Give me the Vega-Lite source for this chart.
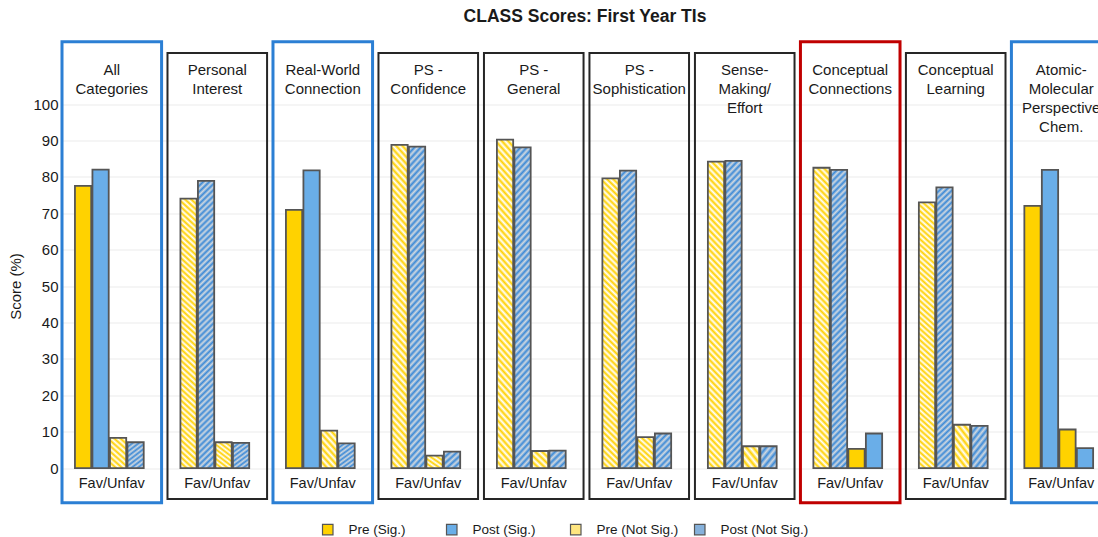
{
  "$schema": "https://vega.github.io/schema/vega-lite/v6.json",
  "autosize": {"type": "none"},
  "padding": {"left": 62, "top": 38.5, "right": 0, "bottom": 32.5},
  "width": 1036,
  "height": 466,
  "title": {"text": "CLASS Scores: First Year TIs", "fontSize": 17.5, "fontWeight": "bold", "anchor": "middle", "baseline": "alphabetic", "offset": -1, "dx": 5, "color": "#1a1a1a"},
  "config": {
    "font": "Liberation Sans",
    "view": {"stroke": null},
    "axis": {"labelFont": "Liberation Sans", "titleFont": "Liberation Sans"}
  },
  "datasets": {
    "panels": [
      {"category": "All Categories", "header": "All\nCategories", "emphasis": "gain"},
      {"category": "Personal Interest", "header": "Personal\nInterest", "emphasis": "none"},
      {"category": "Real-World Connection", "header": "Real-World\nConnection", "emphasis": "gain"},
      {"category": "PS - Confidence", "header": "PS -\nConfidence", "emphasis": "none"},
      {"category": "PS - General", "header": "PS -\nGeneral", "emphasis": "none"},
      {"category": "PS - Sophistication", "header": "PS -\nSophistication", "emphasis": "none"},
      {"category": "Sense-Making/Effort", "header": "Sense-\nMaking/\nEffort", "emphasis": "none"},
      {"category": "Conceptual Connections", "header": "Conceptual\nConnections", "emphasis": "loss"},
      {"category": "Conceptual Learning", "header": "Conceptual\nLearning", "emphasis": "none"},
      {"category": "Atomic-Molecular Perspective Chem.", "header": "Atomic-\nMolecular\nPerspective\nChem.", "emphasis": "gain"}
    ],
    "bars": [
      {"category": "All Categories", "series": "Fav Pre", "period": "Pre", "sig": true, "key": "Pre (Sig.)", "value": 77.5},
      {"category": "All Categories", "series": "Fav Post", "period": "Post", "sig": true, "key": "Post (Sig.)", "value": 82.0},
      {"category": "All Categories", "series": "Unfav Pre", "period": "Pre", "sig": false, "key": "Pre (Not Sig.)", "value": 8.3},
      {"category": "All Categories", "series": "Unfav Post", "period": "Post", "sig": false, "key": "Post (Not Sig.)", "value": 7.1},
      {"category": "Personal Interest", "series": "Fav Pre", "period": "Pre", "sig": false, "key": "Pre (Not Sig.)", "value": 74.0},
      {"category": "Personal Interest", "series": "Fav Post", "period": "Post", "sig": false, "key": "Post (Not Sig.)", "value": 78.9},
      {"category": "Personal Interest", "series": "Unfav Pre", "period": "Pre", "sig": false, "key": "Pre (Not Sig.)", "value": 7.1},
      {"category": "Personal Interest", "series": "Unfav Post", "period": "Post", "sig": false, "key": "Post (Not Sig.)", "value": 6.9},
      {"category": "Real-World Connection", "series": "Fav Pre", "period": "Pre", "sig": true, "key": "Pre (Sig.)", "value": 70.9},
      {"category": "Real-World Connection", "series": "Fav Post", "period": "Post", "sig": true, "key": "Post (Sig.)", "value": 81.8},
      {"category": "Real-World Connection", "series": "Unfav Pre", "period": "Pre", "sig": false, "key": "Pre (Not Sig.)", "value": 10.3},
      {"category": "Real-World Connection", "series": "Unfav Post", "period": "Post", "sig": false, "key": "Post (Not Sig.)", "value": 6.8},
      {"category": "PS - Confidence", "series": "Fav Pre", "period": "Pre", "sig": false, "key": "Pre (Not Sig.)", "value": 88.8},
      {"category": "PS - Confidence", "series": "Fav Post", "period": "Post", "sig": false, "key": "Post (Not Sig.)", "value": 88.3},
      {"category": "PS - Confidence", "series": "Unfav Pre", "period": "Pre", "sig": false, "key": "Pre (Not Sig.)", "value": 3.4},
      {"category": "PS - Confidence", "series": "Unfav Post", "period": "Post", "sig": false, "key": "Post (Not Sig.)", "value": 4.5},
      {"category": "PS - General", "series": "Fav Pre", "period": "Pre", "sig": false, "key": "Pre (Not Sig.)", "value": 90.2},
      {"category": "PS - General", "series": "Fav Post", "period": "Post", "sig": false, "key": "Post (Not Sig.)", "value": 88.1},
      {"category": "PS - General", "series": "Unfav Pre", "period": "Pre", "sig": false, "key": "Pre (Not Sig.)", "value": 4.7},
      {"category": "PS - General", "series": "Unfav Post", "period": "Post", "sig": false, "key": "Post (Not Sig.)", "value": 4.8},
      {"category": "PS - Sophistication", "series": "Fav Pre", "period": "Pre", "sig": false, "key": "Pre (Not Sig.)", "value": 79.6},
      {"category": "PS - Sophistication", "series": "Fav Post", "period": "Post", "sig": false, "key": "Post (Not Sig.)", "value": 81.7},
      {"category": "PS - Sophistication", "series": "Unfav Pre", "period": "Pre", "sig": false, "key": "Pre (Not Sig.)", "value": 8.5},
      {"category": "PS - Sophistication", "series": "Unfav Post", "period": "Post", "sig": false, "key": "Post (Not Sig.)", "value": 9.5},
      {"category": "Sense-Making/Effort", "series": "Fav Pre", "period": "Pre", "sig": false, "key": "Pre (Not Sig.)", "value": 84.2},
      {"category": "Sense-Making/Effort", "series": "Fav Post", "period": "Post", "sig": false, "key": "Post (Not Sig.)", "value": 84.4},
      {"category": "Sense-Making/Effort", "series": "Unfav Pre", "period": "Pre", "sig": false, "key": "Pre (Not Sig.)", "value": 6.0},
      {"category": "Sense-Making/Effort", "series": "Unfav Post", "period": "Post", "sig": false, "key": "Post (Not Sig.)", "value": 6.0},
      {"category": "Conceptual Connections", "series": "Fav Pre", "period": "Pre", "sig": false, "key": "Pre (Not Sig.)", "value": 82.5},
      {"category": "Conceptual Connections", "series": "Fav Post", "period": "Post", "sig": false, "key": "Post (Not Sig.)", "value": 81.9},
      {"category": "Conceptual Connections", "series": "Unfav Pre", "period": "Pre", "sig": true, "key": "Pre (Sig.)", "value": 5.3},
      {"category": "Conceptual Connections", "series": "Unfav Post", "period": "Post", "sig": true, "key": "Post (Sig.)", "value": 9.5},
      {"category": "Conceptual Learning", "series": "Fav Pre", "period": "Pre", "sig": false, "key": "Pre (Not Sig.)", "value": 73.0},
      {"category": "Conceptual Learning", "series": "Fav Post", "period": "Post", "sig": false, "key": "Post (Not Sig.)", "value": 77.1},
      {"category": "Conceptual Learning", "series": "Unfav Pre", "period": "Pre", "sig": false, "key": "Pre (Not Sig.)", "value": 11.9},
      {"category": "Conceptual Learning", "series": "Unfav Post", "period": "Post", "sig": false, "key": "Post (Not Sig.)", "value": 11.6},
      {"category": "Atomic-Molecular Perspective Chem.", "series": "Fav Pre", "period": "Pre", "sig": true, "key": "Pre (Sig.)", "value": 72.0},
      {"category": "Atomic-Molecular Perspective Chem.", "series": "Fav Post", "period": "Post", "sig": true, "key": "Post (Sig.)", "value": 81.9},
      {"category": "Atomic-Molecular Perspective Chem.", "series": "Unfav Pre", "period": "Pre", "sig": true, "key": "Pre (Sig.)", "value": 10.6},
      {"category": "Atomic-Molecular Perspective Chem.", "series": "Unfav Post", "period": "Post", "sig": true, "key": "Post (Sig.)", "value": 5.5}
    ]
  },
  "layer": [
    {
      "data": {"name": "panels"},
      "transform": [{"filter": "datum.emphasis === 'none'"}],
      "mark": {"type": "rect", "fillOpacity": 0, "strokeWidth": 2},
      "encoding": {
        "x": {"field": "category", "type": "nominal", "axis": null,
              "scale": {"domain": ["All Categories", "Personal Interest", "Real-World Connection", "PS - Confidence", "PS - General", "PS - Sophistication", "Sense-Making/Effort", "Conceptual Connections", "Conceptual Learning", "Atomic-Molecular Perspective Chem."],
                        "range": [0, 1049], "paddingInner": 0.056, "paddingOuter": 0}},
        "y": {"datum": 114, "type": "quantitative",
              "scale": {"domain": [-10, 118], "nice": false, "zero": false},
              "axis": {"title": "Score (%)", "values": [0, 10, 20, 30, 40, 50, 60, 70, 80, 90, 100], "grid": true, "gridColor": "#ebebeb", "gridWidth": 1.2, "domain": false, "ticks": false, "labelFontSize": 15, "labelColor": "#1a1a1a", "labelPadding": 4, "titleFontSize": 15, "titleFontWeight": "normal", "titleColor": "#1a1a1a", "titlePadding": 9, "titleY": 247.5}},
        "y2": {"datum": -8.5},
        "stroke": {"field": "emphasis", "type": "nominal", "scale": {"domain": ["gain", "loss", "none"], "range": ["#2b7fd4", "#c00000", "#262626"]}, "legend": null}
      }
    },
    {
      "data": {"name": "panels"},
      "transform": [{"filter": "datum.emphasis !== 'none'"}],
      "mark": {"type": "rect", "fillOpacity": 0, "strokeWidth": 3},
      "encoding": {
        "x": {"field": "category", "type": "nominal", "axis": null},
        "y": {"datum": 117.1, "type": "quantitative"},
        "y2": {"datum": -9.5},
        "stroke": {"field": "emphasis", "type": "nominal", "legend": null}
      }
    },
    {
      "data": {"name": "bars"},
      "mark": {"type": "bar", "stroke": "#555555", "strokeWidth": 1.8},
      "encoding": {
        "x": {"field": "category", "type": "nominal", "axis": null},
        "xOffset": {"field": "series", "type": "nominal",
                    "scale": {"domain": ["Fav Pre", "Fav Post", "Unfav Pre", "Unfav Post"], "paddingInner": 0.07, "paddingOuter": 0.88, "align": 0.42}},
        "y": {"field": "value", "type": "quantitative"},
        "fill": {
          "field": "key", "type": "nominal",
          "scale": {"domain": ["Pre (Sig.)", "Post (Sig.)", "Pre (Not Sig.)", "Post (Not Sig.)"],
                    "range": ["#FFD200", "#6aaee8", "#FFE680", "#86b1db"]},
          "legend": {"title": null, "orient": "none", "legendX": 259, "legendY": 484, "direction": "horizontal", "columns": 4, "gridAlign": "all", "columnPadding": 7, "symbolType": "square", "symbolSize": 110, "symbolStrokeColor": "#555555", "symbolStrokeWidth": 1.2, "labelFontSize": 13.5, "labelOffset": 14, "labelColor": "#1a1a1a", "labelLimit": 200},
          "condition": [
            {"test": "!datum.sig && datum.period === 'Pre' && datum.value >= 50", "value": {"gradient": "linear", "x1": 0, "y1": 1, "x2": 0.058, "y2": -0.052, "stops": [
              {"offset": 0, "color": "#FFD000"}, {"offset": 0.01, "color": "#FFFFFF"}, {"offset": 0.02, "color": "#FFD000"}, {"offset": 0.03, "color": "#FFFFFF"}, {"offset": 0.04, "color": "#FFD000"}, {"offset": 0.05, "color": "#FFFFFF"}, {"offset": 0.06, "color": "#FFD000"}, {"offset": 0.07, "color": "#FFFFFF"}, {"offset": 0.08, "color": "#FFD000"}, {"offset": 0.09, "color": "#FFFFFF"},
              {"offset": 0.1, "color": "#FFD000"}, {"offset": 0.11, "color": "#FFFFFF"}, {"offset": 0.12, "color": "#FFD000"}, {"offset": 0.13, "color": "#FFFFFF"}, {"offset": 0.14, "color": "#FFD000"}, {"offset": 0.15, "color": "#FFFFFF"}, {"offset": 0.16, "color": "#FFD000"}, {"offset": 0.17, "color": "#FFFFFF"}, {"offset": 0.18, "color": "#FFD000"}, {"offset": 0.19, "color": "#FFFFFF"},
              {"offset": 0.2, "color": "#FFD000"}, {"offset": 0.21, "color": "#FFFFFF"}, {"offset": 0.22, "color": "#FFD000"}, {"offset": 0.23, "color": "#FFFFFF"}, {"offset": 0.24, "color": "#FFD000"}, {"offset": 0.25, "color": "#FFFFFF"}, {"offset": 0.26, "color": "#FFD000"}, {"offset": 0.27, "color": "#FFFFFF"}, {"offset": 0.28, "color": "#FFD000"}, {"offset": 0.29, "color": "#FFFFFF"},
              {"offset": 0.3, "color": "#FFD000"}, {"offset": 0.31, "color": "#FFFFFF"}, {"offset": 0.32, "color": "#FFD000"}, {"offset": 0.33, "color": "#FFFFFF"}, {"offset": 0.34, "color": "#FFD000"}, {"offset": 0.35, "color": "#FFFFFF"}, {"offset": 0.36, "color": "#FFD000"}, {"offset": 0.37, "color": "#FFFFFF"}, {"offset": 0.38, "color": "#FFD000"}, {"offset": 0.39, "color": "#FFFFFF"},
              {"offset": 0.4, "color": "#FFD000"}, {"offset": 0.41, "color": "#FFFFFF"}, {"offset": 0.42, "color": "#FFD000"}, {"offset": 0.43, "color": "#FFFFFF"}, {"offset": 0.44, "color": "#FFD000"}, {"offset": 0.45, "color": "#FFFFFF"}, {"offset": 0.46, "color": "#FFD000"}, {"offset": 0.47, "color": "#FFFFFF"}, {"offset": 0.48, "color": "#FFD000"}, {"offset": 0.49, "color": "#FFFFFF"},
              {"offset": 0.5, "color": "#FFD000"}, {"offset": 0.51, "color": "#FFFFFF"}, {"offset": 0.52, "color": "#FFD000"}, {"offset": 0.53, "color": "#FFFFFF"}, {"offset": 0.54, "color": "#FFD000"}, {"offset": 0.55, "color": "#FFFFFF"}, {"offset": 0.56, "color": "#FFD000"}, {"offset": 0.57, "color": "#FFFFFF"}, {"offset": 0.58, "color": "#FFD000"}, {"offset": 0.59, "color": "#FFFFFF"},
              {"offset": 0.6, "color": "#FFD000"}, {"offset": 0.61, "color": "#FFFFFF"}, {"offset": 0.62, "color": "#FFD000"}, {"offset": 0.63, "color": "#FFFFFF"}, {"offset": 0.64, "color": "#FFD000"}, {"offset": 0.65, "color": "#FFFFFF"}, {"offset": 0.66, "color": "#FFD000"}, {"offset": 0.67, "color": "#FFFFFF"}, {"offset": 0.68, "color": "#FFD000"}, {"offset": 0.69, "color": "#FFFFFF"},
              {"offset": 0.7, "color": "#FFD000"}, {"offset": 0.71, "color": "#FFFFFF"}, {"offset": 0.72, "color": "#FFD000"}, {"offset": 0.73, "color": "#FFFFFF"}, {"offset": 0.74, "color": "#FFD000"}, {"offset": 0.75, "color": "#FFFFFF"}, {"offset": 0.76, "color": "#FFD000"}, {"offset": 0.77, "color": "#FFFFFF"}, {"offset": 0.78, "color": "#FFD000"}, {"offset": 0.79, "color": "#FFFFFF"},
              {"offset": 0.8, "color": "#FFD000"}, {"offset": 0.81, "color": "#FFFFFF"}, {"offset": 0.82, "color": "#FFD000"}, {"offset": 0.83, "color": "#FFFFFF"}, {"offset": 0.84, "color": "#FFD000"}, {"offset": 0.85, "color": "#FFFFFF"}, {"offset": 0.86, "color": "#FFD000"}, {"offset": 0.87, "color": "#FFFFFF"}, {"offset": 0.88, "color": "#FFD000"}, {"offset": 0.89, "color": "#FFFFFF"},
              {"offset": 0.9, "color": "#FFD000"}, {"offset": 0.91, "color": "#FFFFFF"}, {"offset": 0.92, "color": "#FFD000"}, {"offset": 0.93, "color": "#FFFFFF"}, {"offset": 0.94, "color": "#FFD000"}, {"offset": 0.95, "color": "#FFFFFF"}, {"offset": 0.96, "color": "#FFD000"}, {"offset": 0.97, "color": "#FFFFFF"}, {"offset": 0.98, "color": "#FFD000"}, {"offset": 0.99, "color": "#FFFFFF"},
              {"offset": 1, "color": "#FFD000"}]}},
            {"test": "!datum.sig && datum.period === 'Pre' && datum.value < 6.5", "value": {"gradient": "linear", "x1": 0, "y1": 1, "x2": 0.95, "y2": -0.045, "stops": [
              {"offset": 0, "color": "#FFD000"}, {"offset": 0.1, "color": "#FFFFFF"}, {"offset": 0.2, "color": "#FFD000"}, {"offset": 0.3, "color": "#FFFFFF"}, {"offset": 0.4, "color": "#FFD000"}, {"offset": 0.5, "color": "#FFFFFF"}, {"offset": 0.6, "color": "#FFD000"}, {"offset": 0.7, "color": "#FFFFFF"}, {"offset": 0.8, "color": "#FFD000"}, {"offset": 0.9, "color": "#FFFFFF"}, {"offset": 1, "color": "#FFD000"}]}},
            {"test": "!datum.sig && datum.period === 'Pre'", "value": {"gradient": "linear", "x1": 0, "y1": 1, "x2": 0.575, "y2": -0.2, "stops": [
              {"offset": 0, "color": "#FFD000"}, {"offset": 0.0625, "color": "#FFFFFF"}, {"offset": 0.125, "color": "#FFD000"}, {"offset": 0.1875, "color": "#FFFFFF"}, {"offset": 0.25, "color": "#FFD000"}, {"offset": 0.3125, "color": "#FFFFFF"}, {"offset": 0.375, "color": "#FFD000"}, {"offset": 0.4375, "color": "#FFFFFF"}, {"offset": 0.5, "color": "#FFD000"}, {"offset": 0.5625, "color": "#FFFFFF"}, {"offset": 0.625, "color": "#FFD000"}, {"offset": 0.6875, "color": "#FFFFFF"}, {"offset": 0.75, "color": "#FFD000"}, {"offset": 0.8125, "color": "#FFFFFF"}, {"offset": 0.875, "color": "#FFD000"}, {"offset": 0.9375, "color": "#FFFFFF"}, {"offset": 1, "color": "#FFD000"}]}},
            {"test": "!datum.sig && datum.value >= 50", "value": {"gradient": "linear", "x1": 0, "y1": 0, "x2": 0.058, "y2": 1.052, "stops": [
              {"offset": 0, "color": "#3d8ad6"}, {"offset": 0.01, "color": "#d0d8e0"}, {"offset": 0.02, "color": "#3d8ad6"}, {"offset": 0.03, "color": "#d0d8e0"}, {"offset": 0.04, "color": "#3d8ad6"}, {"offset": 0.05, "color": "#d0d8e0"}, {"offset": 0.06, "color": "#3d8ad6"}, {"offset": 0.07, "color": "#d0d8e0"}, {"offset": 0.08, "color": "#3d8ad6"}, {"offset": 0.09, "color": "#d0d8e0"},
              {"offset": 0.1, "color": "#3d8ad6"}, {"offset": 0.11, "color": "#d0d8e0"}, {"offset": 0.12, "color": "#3d8ad6"}, {"offset": 0.13, "color": "#d0d8e0"}, {"offset": 0.14, "color": "#3d8ad6"}, {"offset": 0.15, "color": "#d0d8e0"}, {"offset": 0.16, "color": "#3d8ad6"}, {"offset": 0.17, "color": "#d0d8e0"}, {"offset": 0.18, "color": "#3d8ad6"}, {"offset": 0.19, "color": "#d0d8e0"},
              {"offset": 0.2, "color": "#3d8ad6"}, {"offset": 0.21, "color": "#d0d8e0"}, {"offset": 0.22, "color": "#3d8ad6"}, {"offset": 0.23, "color": "#d0d8e0"}, {"offset": 0.24, "color": "#3d8ad6"}, {"offset": 0.25, "color": "#d0d8e0"}, {"offset": 0.26, "color": "#3d8ad6"}, {"offset": 0.27, "color": "#d0d8e0"}, {"offset": 0.28, "color": "#3d8ad6"}, {"offset": 0.29, "color": "#d0d8e0"},
              {"offset": 0.3, "color": "#3d8ad6"}, {"offset": 0.31, "color": "#d0d8e0"}, {"offset": 0.32, "color": "#3d8ad6"}, {"offset": 0.33, "color": "#d0d8e0"}, {"offset": 0.34, "color": "#3d8ad6"}, {"offset": 0.35, "color": "#d0d8e0"}, {"offset": 0.36, "color": "#3d8ad6"}, {"offset": 0.37, "color": "#d0d8e0"}, {"offset": 0.38, "color": "#3d8ad6"}, {"offset": 0.39, "color": "#d0d8e0"},
              {"offset": 0.4, "color": "#3d8ad6"}, {"offset": 0.41, "color": "#d0d8e0"}, {"offset": 0.42, "color": "#3d8ad6"}, {"offset": 0.43, "color": "#d0d8e0"}, {"offset": 0.44, "color": "#3d8ad6"}, {"offset": 0.45, "color": "#d0d8e0"}, {"offset": 0.46, "color": "#3d8ad6"}, {"offset": 0.47, "color": "#d0d8e0"}, {"offset": 0.48, "color": "#3d8ad6"}, {"offset": 0.49, "color": "#d0d8e0"},
              {"offset": 0.5, "color": "#3d8ad6"}, {"offset": 0.51, "color": "#d0d8e0"}, {"offset": 0.52, "color": "#3d8ad6"}, {"offset": 0.53, "color": "#d0d8e0"}, {"offset": 0.54, "color": "#3d8ad6"}, {"offset": 0.55, "color": "#d0d8e0"}, {"offset": 0.56, "color": "#3d8ad6"}, {"offset": 0.57, "color": "#d0d8e0"}, {"offset": 0.58, "color": "#3d8ad6"}, {"offset": 0.59, "color": "#d0d8e0"},
              {"offset": 0.6, "color": "#3d8ad6"}, {"offset": 0.61, "color": "#d0d8e0"}, {"offset": 0.62, "color": "#3d8ad6"}, {"offset": 0.63, "color": "#d0d8e0"}, {"offset": 0.64, "color": "#3d8ad6"}, {"offset": 0.65, "color": "#d0d8e0"}, {"offset": 0.66, "color": "#3d8ad6"}, {"offset": 0.67, "color": "#d0d8e0"}, {"offset": 0.68, "color": "#3d8ad6"}, {"offset": 0.69, "color": "#d0d8e0"},
              {"offset": 0.7, "color": "#3d8ad6"}, {"offset": 0.71, "color": "#d0d8e0"}, {"offset": 0.72, "color": "#3d8ad6"}, {"offset": 0.73, "color": "#d0d8e0"}, {"offset": 0.74, "color": "#3d8ad6"}, {"offset": 0.75, "color": "#d0d8e0"}, {"offset": 0.76, "color": "#3d8ad6"}, {"offset": 0.77, "color": "#d0d8e0"}, {"offset": 0.78, "color": "#3d8ad6"}, {"offset": 0.79, "color": "#d0d8e0"},
              {"offset": 0.8, "color": "#3d8ad6"}, {"offset": 0.81, "color": "#d0d8e0"}, {"offset": 0.82, "color": "#3d8ad6"}, {"offset": 0.83, "color": "#d0d8e0"}, {"offset": 0.84, "color": "#3d8ad6"}, {"offset": 0.85, "color": "#d0d8e0"}, {"offset": 0.86, "color": "#3d8ad6"}, {"offset": 0.87, "color": "#d0d8e0"}, {"offset": 0.88, "color": "#3d8ad6"}, {"offset": 0.89, "color": "#d0d8e0"},
              {"offset": 0.9, "color": "#3d8ad6"}, {"offset": 0.91, "color": "#d0d8e0"}, {"offset": 0.92, "color": "#3d8ad6"}, {"offset": 0.93, "color": "#d0d8e0"}, {"offset": 0.94, "color": "#3d8ad6"}, {"offset": 0.95, "color": "#d0d8e0"}, {"offset": 0.96, "color": "#3d8ad6"}, {"offset": 0.97, "color": "#d0d8e0"}, {"offset": 0.98, "color": "#3d8ad6"}, {"offset": 0.99, "color": "#d0d8e0"},
              {"offset": 1, "color": "#3d8ad6"}]}},
            {"test": "!datum.sig && datum.value < 6.5", "value": {"gradient": "linear", "x1": 0, "y1": 0, "x2": 0.95, "y2": 1.045, "stops": [
              {"offset": 0, "color": "#3d8ad6"}, {"offset": 0.1, "color": "#d0d8e0"}, {"offset": 0.2, "color": "#3d8ad6"}, {"offset": 0.3, "color": "#d0d8e0"}, {"offset": 0.4, "color": "#3d8ad6"}, {"offset": 0.5, "color": "#d0d8e0"}, {"offset": 0.6, "color": "#3d8ad6"}, {"offset": 0.7, "color": "#d0d8e0"}, {"offset": 0.8, "color": "#3d8ad6"}, {"offset": 0.9, "color": "#d0d8e0"}, {"offset": 1, "color": "#3d8ad6"}]}},
            {"test": "!datum.sig", "value": {"gradient": "linear", "x1": 0, "y1": 0, "x2": 0.575, "y2": 1.2, "stops": [
              {"offset": 0, "color": "#3d8ad6"}, {"offset": 0.0625, "color": "#d0d8e0"}, {"offset": 0.125, "color": "#3d8ad6"}, {"offset": 0.1875, "color": "#d0d8e0"}, {"offset": 0.25, "color": "#3d8ad6"}, {"offset": 0.3125, "color": "#d0d8e0"}, {"offset": 0.375, "color": "#3d8ad6"}, {"offset": 0.4375, "color": "#d0d8e0"}, {"offset": 0.5, "color": "#3d8ad6"}, {"offset": 0.5625, "color": "#d0d8e0"}, {"offset": 0.625, "color": "#3d8ad6"}, {"offset": 0.6875, "color": "#d0d8e0"}, {"offset": 0.75, "color": "#3d8ad6"}, {"offset": 0.8125, "color": "#d0d8e0"}, {"offset": 0.875, "color": "#3d8ad6"}, {"offset": 0.9375, "color": "#d0d8e0"}, {"offset": 1, "color": "#3d8ad6"}]}}
          ]
        }
      }
    },
    {
      "data": {"name": "panels"},
      "mark": {"type": "text", "lineBreak": "\n", "fontSize": 15, "lineHeight": 19, "baseline": "alphabetic", "align": "center", "color": "#1a1a1a"},
      "encoding": {
        "x": {"field": "category", "type": "nominal", "axis": null},
        "y": {"datum": 108.0, "type": "quantitative"},
        "text": {"field": "header", "type": "nominal"}
      }
    },
    {
      "data": {"name": "panels"},
      "mark": {"type": "text", "fontSize": 14.5, "baseline": "alphabetic", "align": "center", "color": "#1a1a1a"},
      "encoding": {
        "x": {"field": "category", "type": "nominal", "axis": null},
        "y": {"datum": -5.36, "type": "quantitative"},
        "text": {"value": "Fav/Unfav"}
      }
    }
  ]
}
